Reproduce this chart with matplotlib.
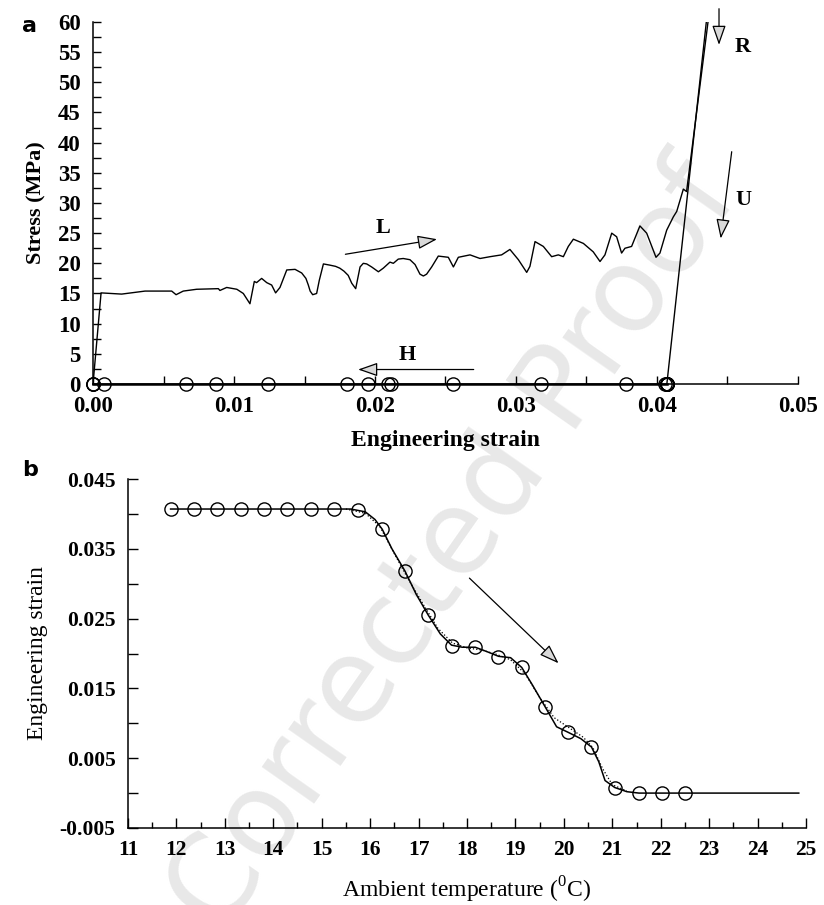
import matplotlib
matplotlib.use('Agg')
import matplotlib.pyplot as plt
from matplotlib.ticker import MultipleLocator, FormatStrFormatter

plt.rcParams['font.family'] = ['Liberation Serif', 'DejaVu Serif']
plt.rcParams['mathtext.fontset'] = 'custom'
plt.rcParams['mathtext.rm'] = 'Liberation Serif'

# ---------------- data: panel a (stress-strain) ----------------
load_strain = [0.0, 0.00057, 0.00203, 0.00369, 0.00558, 0.00589, 0.0064, 0.00735, 0.00889, 0.009,
               0.00948, 0.0102, 0.01066, 0.01113, 0.01144, 0.0116, 0.01196, 0.01232, 0.01267, 0.01295,
               0.01326, 0.01374, 0.01433, 0.0148, 0.0151, 0.01527, 0.0154, 0.01558, 0.01586, 0.01605,
               0.01634, 0.0168, 0.0172, 0.0175, 0.0178, 0.0181, 0.01835, 0.01863, 0.01894, 0.01917,
               0.01941, 0.01976, 0.02024, 0.02059, 0.02106, 0.0213, 0.02165, 0.022, 0.02248, 0.02284,
               0.02319, 0.02343, 0.02366, 0.02402, 0.02449, 0.02485, 0.0252, 0.02556, 0.02591, 0.02674,
               0.02745, 0.02816, 0.02898, 0.02957, 0.03017, 0.03076, 0.03099, 0.03135, 0.03194, 0.03253,
               0.033, 0.03336, 0.03371, 0.03407, 0.03478, 0.03548, 0.03596, 0.03631, 0.03679, 0.03714,
               0.03749, 0.03773, 0.0382, 0.03879, 0.03927, 0.0396, 0.03993, 0.04021, 0.04069, 0.04116,
               0.0414, 0.04168, 0.04187, 0.0421, 0.04362]
load_stress = [0.0, 15.1, 14.9, 15.4, 15.4, 14.8, 15.4, 15.7, 15.8, 15.5,
               16.0, 15.7, 15.0, 13.3, 17.0, 16.8, 17.5, 16.8, 16.4, 15.1,
               16.0, 18.9, 19.0, 18.4, 17.5, 16.4, 15.4, 14.8, 15.0, 17.2,
               19.9, 19.7, 19.5, 19.2, 18.7, 18.0, 16.7, 15.8, 19.4, 20.0,
               19.9, 19.4, 18.6, 19.2, 20.2, 20.0, 20.7, 20.8, 20.6, 19.8,
               18.2, 17.9, 18.2, 19.4, 21.2, 21.1, 21.0, 19.4, 21.0, 21.4,
               20.8, 21.1, 21.4, 22.3, 20.6, 18.5, 19.5, 23.6, 22.8, 21.1,
               21.4, 21.1, 22.8, 24.0, 23.3, 21.9, 20.3, 21.4, 25.0, 24.4,
               21.7, 22.5, 22.8, 26.2, 25.0, 23.0, 21.0, 21.7, 25.5, 27.7,
               28.6, 30.8, 32.3, 31.9, 60.0]
unload_strain = [0.04350, 0.0407]
unload_stress = [60.0, 0.0]

# ---------------- data: panel b (strain vs temperature) ----------------
temp_pts = [11.88, 12.36, 12.84, 13.33, 13.81, 14.29, 14.77, 15.26, 15.74, 16.24, 16.72, 17.2,
            17.68, 18.17, 18.65, 19.13, 19.61, 20.09, 20.57, 21.05, 21.55, 22.03, 22.5]
strain_pts = [0.0407, 0.0407, 0.0407, 0.0407, 0.0407, 0.0407, 0.0407, 0.0407, 0.0406, 0.0378,
              0.0318, 0.0255, 0.0211, 0.0209, 0.0195, 0.0180, 0.0124, 0.0087, 0.0066, 0.0008,
              0.0, 0.0, 0.0]

fit_temp = [11.88, 15.6, 15.9, 16.1, 16.25, 16.45, 16.72, 16.95, 17.2, 17.45, 17.68, 17.9, 18.17,
            18.4, 18.65, 18.9, 19.13, 19.35, 19.61, 19.85, 20.09, 20.35, 20.57, 20.72, 20.85, 21.05,
            21.3, 21.55, 24.85]
fit_strain = [0.0407, 0.0407, 0.0403, 0.0392, 0.0378, 0.0350, 0.0318, 0.0285, 0.0255, 0.0228, 0.0212,
              0.0209, 0.0209, 0.0203, 0.0196, 0.0194, 0.0180, 0.0155, 0.0124, 0.0095, 0.0087, 0.0078,
              0.0066, 0.0045, 0.0018, 0.0008, 0.0002, 0.0, 0.0]

raw_temp = [15.5, 15.9, 16.2, 16.5, 16.8, 17.1, 17.4, 17.7, 18.0, 18.3, 18.6, 18.9, 19.2, 19.5,
            19.8, 20.1, 20.4, 20.6, 20.8, 21.0, 21.3]
raw_strain = [0.0407, 0.0401, 0.0382, 0.0343, 0.0305, 0.0270, 0.0236, 0.0215, 0.0208, 0.0205, 0.0199,
              0.0191, 0.0171, 0.0137, 0.0108, 0.0094, 0.0080, 0.0065, 0.0035, 0.0012, 0.0003]

# ---------------- figure ----------------
fig = plt.figure(figsize=(8.24, 9.05), dpi=100)

fig.text(0.552, 0.395, 'Corrected Proof', rotation=55, fontsize=84, color='#e8e8e8',
         family='DejaVu Sans', ha='center', va='center', zorder=-1)

ax1 = fig.add_axes([0.1129, 0.5757, 0.8555, 0.4])
ax2 = fig.add_axes([0.1553, 0.0851, 0.8229, 0.3856])
for ax in (ax1, ax2):
    ax.patch.set_visible(False)
    ax.spines['top'].set_visible(False)
    ax.spines['right'].set_visible(False)
    ax.spines['left'].set_linewidth(1.1)
    ax.spines['bottom'].set_linewidth(1.1)

# panel a
ax1.plot(load_strain, load_stress, color='black', lw=1.0)
ax1.plot(unload_strain, unload_stress, color='black', lw=1.0)
ax1.plot(strain_pts, [0] * len(strain_pts), color='black', lw=1.8, marker='o', ms=9.5,
         mfc='none', mec='black', mew=1.0, clip_on=False, zorder=3)
ax1.set_xlim(0, 0.05)
ax1.set_ylim(0, 60)
ax1.xaxis.set_major_locator(MultipleLocator(0.01))
ax1.xaxis.set_minor_locator(MultipleLocator(0.005))
ax1.xaxis.set_major_formatter(FormatStrFormatter('%.2f'))
ax1.yaxis.set_major_locator(MultipleLocator(5))
ax1.yaxis.set_minor_locator(MultipleLocator(2.5))
ax1.tick_params(which='both', direction='in', length=6, width=1.0, labelsize=16.5)
ax1.tick_params(axis='x', pad=9)
ax1.tick_params(axis='y', pad=9)
for lab in ax1.get_xticklabels() + ax1.get_yticklabels():
    lab.set_fontweight('bold')
ax1.set_xlabel('Engineering strain', fontsize=17, fontweight='bold', labelpad=9)
ax1.set_ylabel('Stress (MPa)', fontsize=16, fontweight='bold', labelpad=8)

arrow_kw = dict(arrowstyle='-|>,head_length=1.2,head_width=0.42', fc='#d9d9d9', ec='black',
                lw=0.9, shrinkA=0, shrinkB=0)
ax1.annotate('', xy=(0.0244, 24.0), xytext=(0.0179, 21.5), arrowprops=arrow_kw)
ax1.annotate('', xy=(0.0188, 2.4), xytext=(0.0270, 2.4), arrowprops=arrow_kw)
ax1.annotate('', xy=(0.0444, 56.2), xytext=(0.0444, 62.2), arrowprops=arrow_kw,
             annotation_clip=False)
ax1.annotate('', xy=(0.04452, 24.1), xytext=(0.0453, 38.5), arrowprops=arrow_kw)
lbl_kw = dict(fontsize=16, fontweight='bold', ha='center', va='center')
ax1.text(0.0206, 25.9, 'L', **lbl_kw)
ax1.text(0.0223, 4.8, 'H', **lbl_kw)
ax1.text(0.0461, 55.9, 'R', **lbl_kw)
ax1.text(0.0461, 30.5, 'U', **lbl_kw)

# panel b
ax2.plot(raw_temp, raw_strain, color='black', lw=0.9, ls=':')
ax2.plot(fit_temp, fit_strain, color='black', lw=1.1)
ax2.plot(temp_pts, strain_pts, ls='none', marker='o', ms=9.5, mfc='none', mec='black', mew=1.0)
ax2.set_xlim(11, 25)
ax2.set_ylim(-0.005, 0.045)
ax2.xaxis.set_major_locator(MultipleLocator(1))
ax2.xaxis.set_minor_locator(MultipleLocator(0.5))
ax2.yaxis.set_major_formatter(FormatStrFormatter('%.3f'))
ax2.set_yticks([-0.005, 0.005, 0.015, 0.025, 0.035, 0.045])
ax2.set_yticks([0.0, 0.01, 0.02, 0.03, 0.04], minor=True)
ax2.tick_params(which='major', direction='in', length=7, width=1.0, labelsize=15.5, pad=9)
ax2.tick_params(which='minor', direction='in', length=4, width=1.0)
ax2.tick_params(axis='y', which='minor', length=7)
for lab in ax2.get_xticklabels() + ax2.get_yticklabels():
    lab.set_fontweight('bold')
ax2.set_xlabel('Ambient temperature ($^{0}$C)', fontsize=17, labelpad=10)
ax2.set_ylabel('Engineering strain', fontsize=17, labelpad=8)
ax2.annotate('', xy=(19.89, 0.0186), xytext=(18.05, 0.0308), arrowprops=arrow_kw)

fig.text(0.027, 0.982, 'a', family='DejaVu Sans', fontsize=16, fontweight='bold', va='top')
fig.text(0.027, 0.492, 'b', family='DejaVu Sans', fontsize=16, fontweight='bold', va='top')

fig.savefig('out.png', dpi=100)
